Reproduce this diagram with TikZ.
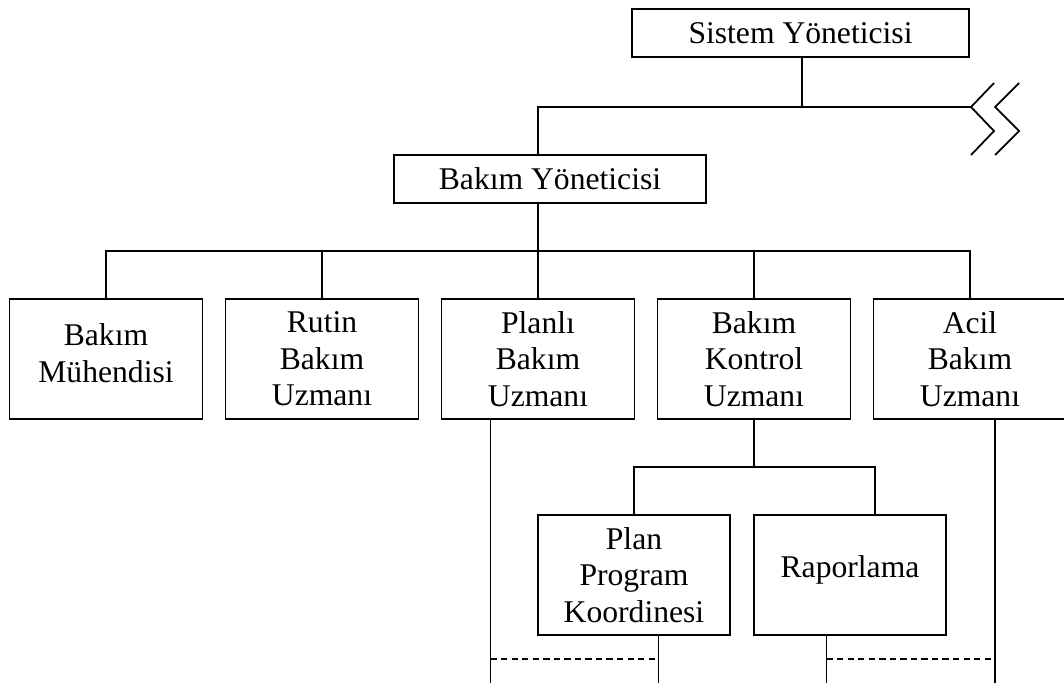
\documentclass[tikz,border=0pt]{standalone}
\usepackage{fontspec}
\setmainfont{Liberation Serif}

\begin{document}
\begin{tikzpicture}[x=0.02cm,y=-0.02cm,line width=1pt,
  orgbox/.style={draw,rectangle,align=center,inner sep=0pt,font=\fontsize{18}{20.8}\selectfont},
  topbox/.style={orgbox,minimum height=0.96cm},
  rowbox/.style={orgbox,minimum width=3.86cm,minimum height=2.4cm},
  link/.style={dash pattern=on 3.6pt off 2.4pt}]
\useasboundingbox (0,0) rectangle (1064,683);
\node [topbox,minimum width=6.74cm] (sys) at (800.5,33) {Sistem Yöneticisi};
\node [topbox,minimum width=6.24cm] (bky) at (550,179) {Bakım Yöneticisi};
  \foreach \nm/\txt/\pos in {2/Rutin\\Bakım\\Uzmanı,3/Planlı\\Bakım\\Uzmanı,4/Bakım\\Kontrol\\Uzmanı,5/Acil\\Bakım\\Uzmanı}
  {  \node [rowbox] (rb\nm) at (106+216*\nm-216,359) {\txt};}
\node [rowbox,text depth=6.8pt] (rb1) at (106,359) {Bakım\\Mühendisi};
\node [rowbox,minimum width=3.84cm] (plan) at (634,575) {Plan\\Program\\Koordinesi};
\node [rowbox,minimum width=3.84cm,text depth=10pt] (rap) at (850,575) {Raporlama};
% helper levels
\coordinate (brk) at (971,107);
\coordinate (bus) at (0,251);
\coordinate (subbus) at (0,467);
\coordinate (dash) at (0,659);
\coordinate (floor) at (0,683);
% upper levels
\draw (sys.south -| 802,0) -- (802,0 |- brk);
\draw (rb3 |- bky.north) |- (brk);
\draw ([shift={(23,-24)}]brk) -- (brk) -- ++(23,24) -- ++(-23,24);
\draw ([shift={(48,-24)}]brk) -- ++(-24,24) -- ++(24,24) -- ++(-24,24);
\draw (rb3 |- bky.south) -- (rb3 |- bus);
\draw (rb1.north) |- (rb5 |- bus) -- (rb5.north);
  \foreach \i in {2,3,4}
  {  \draw (rb\i.north) -- (rb\i |- bus);}
% control branch
\draw (rb4.south) -- (rb4 |- subbus);
\draw (plan.north) |- ([xshift=0.5cm]rap.north |- subbus) -- ([xshift=0.5cm]rap.north);
% lines to the bottom
\coordinate (pl) at ([xshift=-0.95cm]rb3.south);
\coordinate (ac) at ([xshift=0.5cm]rb5.south);
\coordinate (pp) at ([xshift=0.49cm]plan.south);
\coordinate (rp) at ([xshift=-0.47cm]rap.south);
  \foreach \c in {pl,ac,pp,rp}
  {  \draw (\c) -- (\c |- floor);}
\draw [link] (pl |- dash) -- (pp |- dash);
\draw [link] (rp |- dash) -- (ac |- dash);
\end{tikzpicture}
\end{document}
